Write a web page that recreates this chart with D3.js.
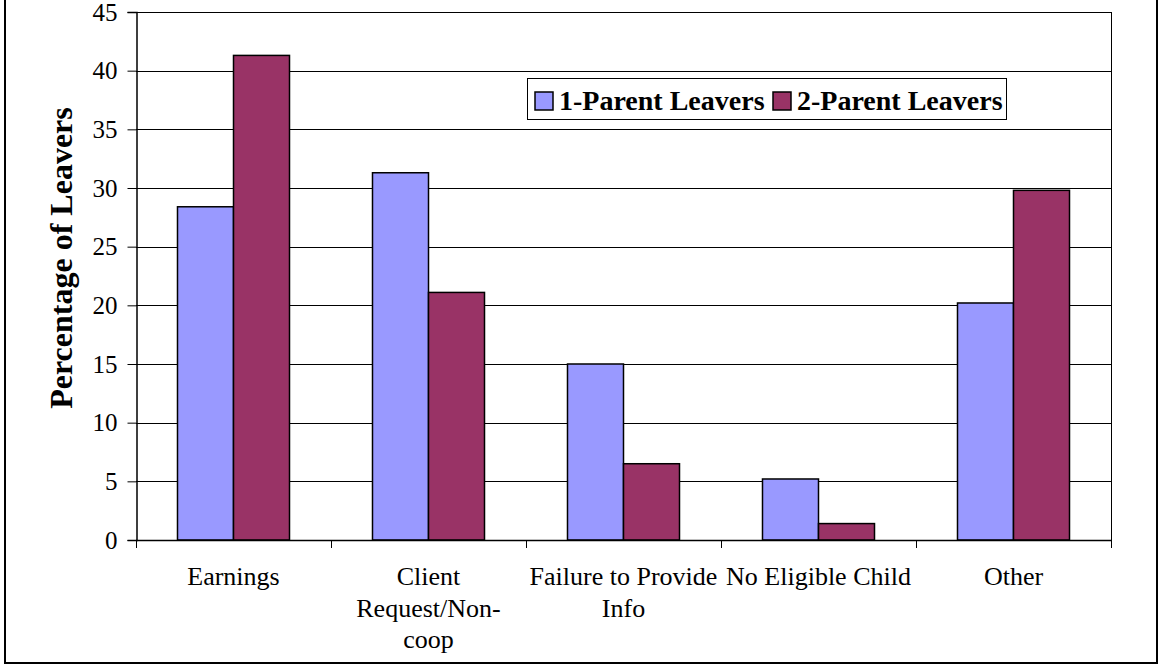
<!DOCTYPE html>
<html>
<head>
<meta charset="utf-8">
<script src="https://cdn.jsdelivr.net/npm/d3@7"></script>
<style>
  body { margin: 0; background: #fff; }
  svg { display: block; font-family: "Liberation Serif", "Times New Roman", serif; }
</style>
</head>
<body>
<svg id="chart" width="1160" height="666"></svg>
<script>
"use strict";

// categories, with the line breaks Excel used
const categories = ["Earnings", "Client Request/Non-coop", "Failure to Provide Info", "No Eligible Child", "Other"];
const categoryLines = [
    ["Earnings"],
    ["Client", "Request/Non-", "coop"],
    ["Failure to Provide", "Info"],
    ["No Eligible Child"],
    ["Other"]
];
const seriesNames = ["1-Parent Leavers", "2-Parent Leavers"];
const oneParent = [28.4, 31.3, 15.0, 5.2, 20.2];
const twoParent = [41.3, 21.1, 6.5, 1.4, 29.8];
const yTicks = [0, 5, 10, 15, 20, 25, 30, 35, 40, 45];
const colors = ["#9999ff", "#993366"];

(function () {
    const svg = d3.select("#chart");
    const m = { left: 136, top: 12, right: 1111, bottom: 540 };

    // outer frame
    svg.append("rect")
        .attr("x", 5).attr("y", -2)
        .attr("width", 1152).attr("height", 665)
        .attr("fill", "none")
        .attr("stroke", "#000")
        .attr("stroke-width", 2);

    const x0 = d3.scaleBand()
        .domain(categories)
        .range([m.left, m.right])
        .paddingInner(0.4256)
        .paddingOuter(0.2128);
    const x1 = d3.scaleBand()
        .domain(seriesNames)
        .range([0, x0.bandwidth()]);
    const y = d3.scaleLinear()
        .domain([0, 45])
        .range([m.bottom, m.top]);

    // gridlines
    svg.append("g")
        .selectAll("line")
        .data(yTicks.slice(1))
        .enter()
        .append("line")
        .attr("x1", m.left).attr("x2", m.right)
        .attr("y1", d => Math.round(y(d)) + 0.5)
        .attr("y2", d => Math.round(y(d)) + 0.5)
        .attr("stroke", "#000")
        .attr("stroke-width", 1);

    // right edge of plot area
    svg.append("line")
        .attr("x1", m.right + 0.5).attr("x2", m.right + 0.5)
        .attr("y1", m.top).attr("y2", m.bottom)
        .attr("stroke", "#000");

    // bars
    const rows = categories.map((c, i) => ({ cat: c, vals: [oneParent[i], twoParent[i]] }));
    svg.append("g")
        .selectAll("g")
        .data(rows)
        .enter()
        .append("g")
        .attr("transform", d => `translate(${x0(d.cat)},0)`)
        .selectAll("rect")
        .data(d => d.vals.map((v, j) => ({ name: seriesNames[j], v: v, j: j })))
        .enter()
        .append("rect")
        .attr("x", d => x1(d.name))
        .attr("y", d => y(d.v))
        .attr("width", x1.bandwidth())
        .attr("height", d => y(0) - y(d.v))
        .attr("fill", d => colors[d.j])
        .attr("stroke", "#000")
        .attr("stroke-width", 1.5);

    // y axis
    const yAxis = svg.append("g")
        .attr("transform", `translate(${m.left + 0.5},0)`)
        .call(d3.axisLeft(y).tickValues(yTicks).tickSize(9).tickPadding(10));
    yAxis.select(".domain").attr("stroke", "#000").attr("stroke-width", 1.5);
    yAxis.selectAll(".tick line").attr("stroke", "#000");
    yAxis.selectAll(".tick text")
        .attr("fill", "#000")
        .style("font-family", "Liberation Serif")
        .style("font-size", "25px");

    // x axis: ticks at band boundaries
    const bounds = categories.map(c => x0(c) - x0.step() * x0.paddingInner() / 2);
    bounds.push(m.right);
    svg.append("line")
        .attr("x1", m.left).attr("x2", m.right + 1)
        .attr("y1", m.bottom + 0.5).attr("y2", m.bottom + 0.5)
        .attr("stroke", "#000").attr("stroke-width", 1.5);
    svg.append("g")
        .selectAll("line")
        .data(bounds)
        .enter()
        .append("line")
        .attr("x1", d => Math.round(d) + 0.5)
        .attr("x2", d => Math.round(d) + 0.5)
        .attr("y1", m.bottom).attr("y2", m.bottom + 8)
        .attr("stroke", "#000");

    const labels = svg.append("g")
        .selectAll("text")
        .data(categories)
        .enter()
        .append("text")
        .attr("text-anchor", "middle")
        .attr("font-size", 26)
        .attr("fill", "#000");
    labels.selectAll("tspan")
        .data((d, i) => categoryLines[i].map(t => ({ t: t, c: d })))
        .enter()
        .append("tspan")
        .attr("x", d => x0(d.c) + x0.bandwidth() / 2)
        .attr("y", (d, k) => 585 + k * 31.5)
        .text(d => d.t);

    // y title
    svg.append("text")
        .attr("transform", "translate(72,258) rotate(-90)")
        .attr("text-anchor", "middle")
        .attr("font-size", 32)
        .attr("font-weight", "bold")
        .text("Percentage of Leavers");

    // legend
    const lg = svg.append("g");
    lg.append("rect")
        .attr("x", 527.5).attr("y", 78.5)
        .attr("width", 479).attr("height", 41)
        .attr("fill", "#fff")
        .attr("stroke", "#000");
    const legendX = [535, 773];
    const items = lg.selectAll("g")
        .data(seriesNames)
        .enter()
        .append("g")
        .attr("transform", (d, i) => `translate(${legendX[i]},92)`);
    items.append("rect")
        .attr("width", 18).attr("height", 18)
        .attr("fill", (d, i) => colors[i])
        .attr("stroke", "#000")
        .attr("stroke-width", 1.5);
    items.append("text")
        .attr("x", 24).attr("y", 18)
        .attr("font-size", 28)
        .attr("font-weight", "bold")
        .text(d => d);
})();
</script>
</body>
</html>
